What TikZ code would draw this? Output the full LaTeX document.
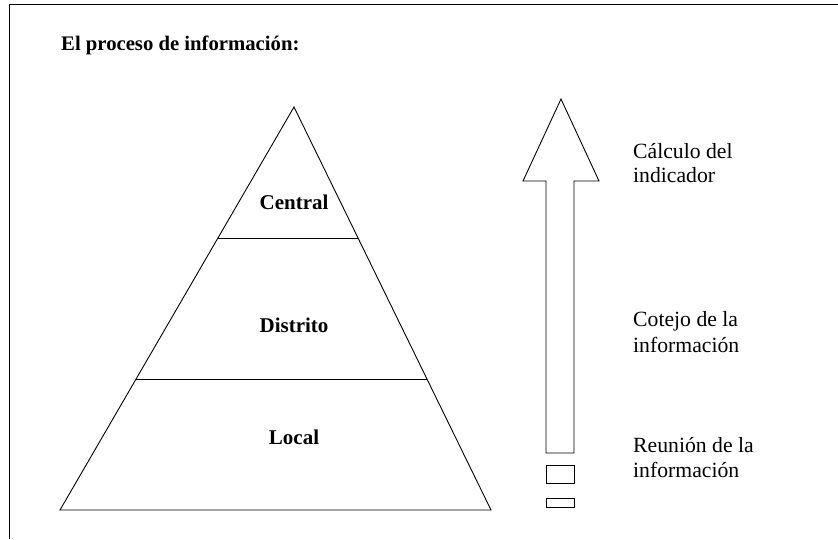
\documentclass[tikz,border=0pt]{standalone}
\usepackage{fontspec}
\setmainfont{Liberation Serif}
\usetikzlibrary{calc}
\begin{document}
\begin{tikzpicture}[x=1pt,y=-1pt,
  frameline/.style={line width=1.5pt},
  thin/.style={line width=0.9pt},
  boldlbl/.style={anchor=base,inner sep=0pt,font=\fontsize{21}{25}\selectfont\bfseries},
  title/.style={anchor=base west,inner sep=0pt,font=\fontsize{20.7}{25}\selectfont\bfseries},
  sidelbl/.style={anchor=base west,inner sep=0pt,font=\fontsize{21.7}{26}\selectfont}]
\useasboundingbox (0,0) rectangle (838,539);
% frame
\coordinate (fbl) at (9.5,539);
\coordinate (ftl) at (9.5,4.5);
\coordinate (ftr) at (838,4.5);
\draw[frameline] (fbl) -- (ftl) -- (ftr);
\node[title] (title) at (61,50) {El proceso de información:};
% pyramid
\coordinate (apex) at (294,107);
\coordinate (bl) at (60,510);
\coordinate (br) at (491,510);
\draw[thin,line join=miter] (apex) -- (bl) -- (br) -- cycle;
\coordinate (l1a) at ($(apex)!0.325!(bl)$);
\coordinate (l1b) at ($(apex)!0.325!(br)$);
\coordinate (l2a) at ($(apex)!0.675!(bl)$);
\coordinate (l2b) at ($(apex)!0.675!(br)$);
\draw[thin] (l1a) -- (l1b);
\draw[thin] (l2a) -- (l2b);
\node[boldlbl] (central) at (294,209) {Central};
\node[boldlbl] (distrito) at (294,332) {Distrito};
\node[boldlbl] (local) at (294,444) {Local};
% arrow
\draw[thin,line join=miter] (546,453) -- (546,181) -- (523,181) -- (561,99) -- (599,181) -- (574,181) -- (574,453) -- cycle;
\draw[thin] (546,465) rectangle (574.5,483);
\draw[thin] (546,498) rectangle (574.5,507);
% side labels
\node[sidelbl] (c1) at (633,158) {Cálculo del};
\node[sidelbl] (c2) at (633,182) {indicador};
\node[sidelbl] (d1) at (633,326) {Cotejo de la};
\node[sidelbl] (d2) at (633,352) {información};
\node[sidelbl] (r1) at (633,452) {Reunión de la};
\node[sidelbl] (r2) at (633,477) {información};
\end{tikzpicture}
\end{document}
